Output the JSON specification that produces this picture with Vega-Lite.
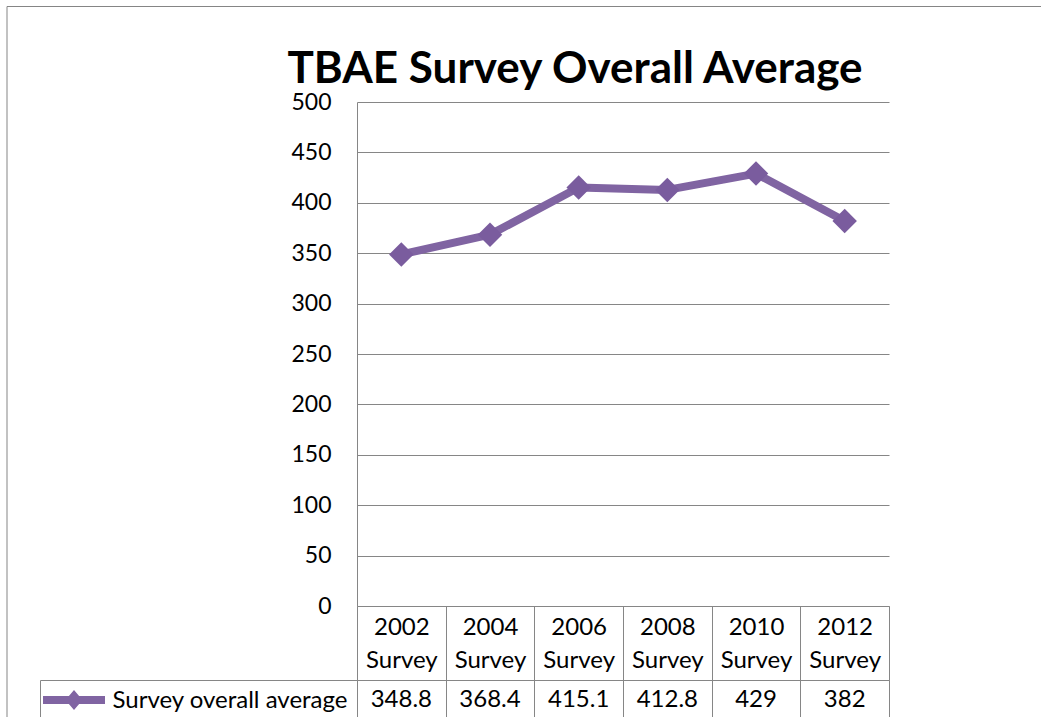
{
  "$schema": "https://vega.github.io/schema/vega-lite/v6.json",
  "background": "white",
  "padding": {"left": 6, "top": 5, "right": 0, "bottom": 0},
  "data": {"values": [
    {"survey": "2002 Survey", "value": 348.8, "series": "Survey overall average"},
    {"survey": "2004 Survey", "value": 368.4, "series": "Survey overall average"},
    {"survey": "2006 Survey", "value": 415.1, "series": "Survey overall average"},
    {"survey": "2008 Survey", "value": 412.8, "series": "Survey overall average"},
    {"survey": "2010 Survey", "value": 429, "series": "Survey overall average"},
    {"survey": "2012 Survey", "value": 382, "series": "Survey overall average"}
  ]},
  "spacing": 74,
  "bounds": "flush",
  "vconcat": [
    {
      "title": {"text": "TBAE Survey Overall Average", "font": "Lato", "fontSize": 44, "fontWeight": "bold", "color": "black", "anchor": "middle", "frame": "group", "dx": -48, "offset": -1},
      "width": 532,
      "height": 504,
      "encoding": {
        "x": {"field": "survey", "type": "nominal", "sort": null, "bandPosition": 0.5,
          "scale": {"type": "band", "paddingInner": 0, "paddingOuter": 0},
          "axis": {"title": null, "orient": "bottom", "grid": false, "domain": true, "domainColor": "#868686",
            "ticks": true, "tickBand": "extent", "tickSize": 74, "tickColor": "#868686",
            "labelExpr": "split(datum.label, ' ')", "labelAngle": 0, "labelPadding": -65,
            "labelBaseline": "top", "labelLineHeight": 33, "labelFontSize": 24, "labelColor": "black", "labelOverlap": false}},
        "y": {"field": "value", "type": "quantitative",
          "scale": {"domain": [0, 500]},
          "axis": {"title": null, "values": [0, 50, 100, 150, 200, 250, 300, 350, 400, 450, 500],
            "grid": true, "gridColor": "#868686", "domain": true, "domainColor": "#868686",
            "ticks": false, "labelPadding": 26, "labelFontSize": 23, "labelColor": "black"}}
      },
      "layer": [
        {"mark": {"type": "line", "color": "#8064A2", "strokeWidth": 8, "strokeJoin": "round"}},
        {"mark": {"type": "point", "shape": "diamond", "filled": true, "size": 600, "color": "#7A5C9E", "opacity": 1}}
      ]
    },
    {
      "width": 532,
      "height": 40,
      "view": {"stroke": "#868686"},
      "encoding": {
        "x": {"field": "survey", "type": "nominal", "sort": null, "bandPosition": 0.5,
          "scale": {"type": "band", "paddingInner": 0, "paddingOuter": 0},
          "axis": {"title": null, "labels": false, "ticks": false, "domain": false, "grid": true,
            "tickBand": "extent", "gridColor": "#868686"}},
        "y": {"field": "series", "type": "nominal",
          "scale": {"type": "band", "paddingInner": 0, "paddingOuter": 0},
          "axis": {"title": null, "orient": "left", "offset": 317, "domain": true, "domainColor": "#868686",
            "ticks": true, "tickBand": "extent", "tickSize": -317, "tickColor": "#868686",
            "labels": true, "labelPadding": 10, "labelLimit": 0, "labelFontSize": 24, "labelColor": "black", "grid": false}}
      },
      "layer": [
        {"mark": {"type": "text", "fontSize": 24, "color": "black", "font": "Lato"},
         "encoding": {"text": {"field": "value", "type": "quantitative"}}},
        {"mark": {"type": "point", "filled": true, "size": 0},
         "encoding": {
           "color": {"field": "series", "type": "nominal",
             "scale": {"range": ["#8064A2"]},
             "legend": {"orient": "none", "legendX": -293, "legendY": 588, "title": null,
               "symbolType": "M-3.1,-0.4L3.1,-0.4L3.1,0.4L-3.1,0.4Z M0,-1L0.85,0L0,1L-0.85,0Z",
               "symbolSize": 400, "symbolOpacity": 1, "symbolStrokeWidth": 0, "symbolFillColor": "#8064A2",
               "labelExpr": "''", "labelFontSize": 1, "padding": 0}},
           "shape": {"field": "survey", "type": "nominal",
             "legend": {"orient": "none", "legendX": -350.5, "legendY": -96, "title": null,
               "values": ["2002 Survey"], "symbolSize": 0, "symbolOpacity": 0,
               "labelExpr": "''", "labelFontSize": 1, "padding": 530,
               "strokeColor": "#858585", "fillColor": null,
               "encode": {"legend": {"update": {"strokeWidth": {"value": 2}}}}}}
         }}
      ]
    }
  ],
  "config": {
    "font": "Lato",
    "view": {"stroke": null},
    "axis": {"labelFont": "Lato"}
  }
}
